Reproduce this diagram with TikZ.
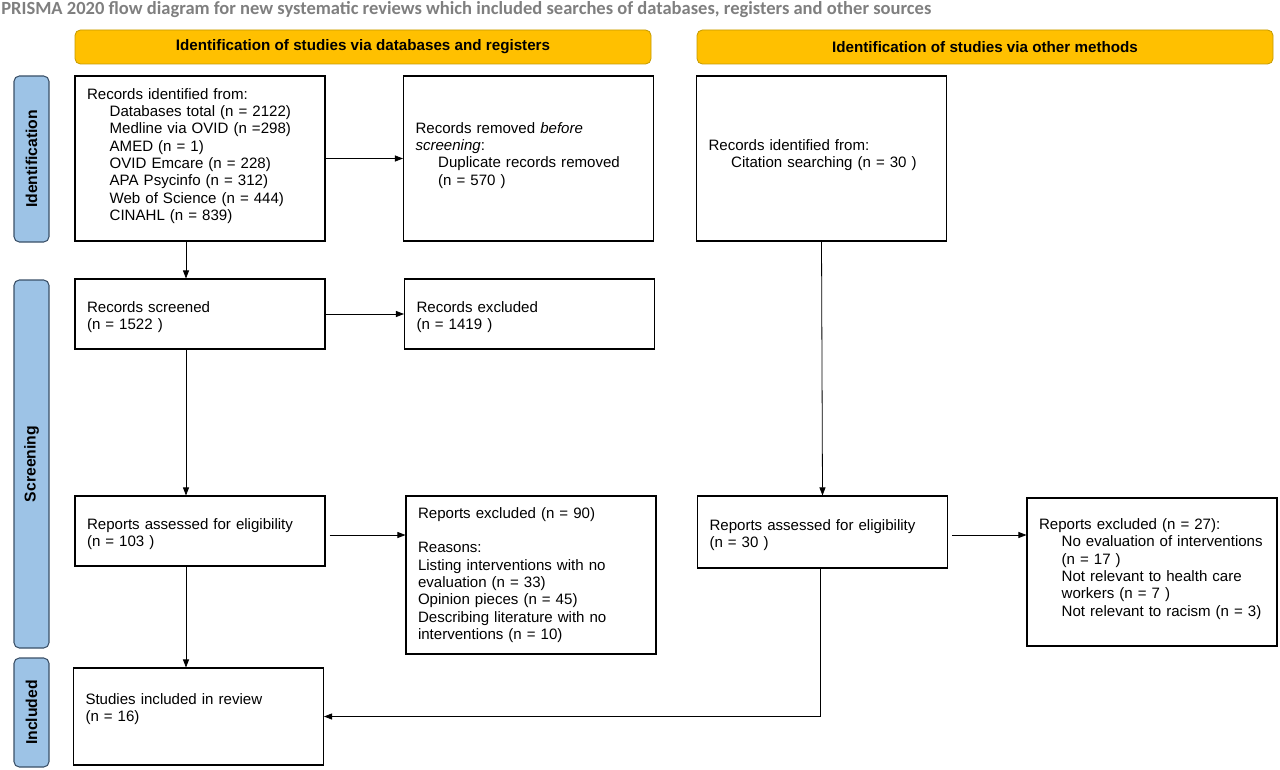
\documentclass[tikz,border=0pt]{standalone}
\usepackage{fontspec}
\setmainfont{Liberation Sans}
\newfontfamily\titlefont{Carlito}
\usetikzlibrary{arrows.meta, positioning, calc}
\usepackage{xcolor}
\definecolor{HeadFill}{HTML}{FFC000}
\definecolor{HeadLine}{HTML}{C49A00}
\definecolor{SideFill}{HTML}{9DC3E6}
\definecolor{SideLine}{HTML}{3A5068}
\definecolor{TitleGray}{HTML}{7F7F7F}
\newcommand{\prind}{\hspace*{17pt}}
\newcommand{\prlow}{\rule{0pt}{13pt}}

\begin{document}
\begin{tikzpicture}[x=0.75pt, y=-0.75pt,
    box/.style={rectangle, draw=black, line width=0.8pt, fill=white, minimum width=187.5pt, text width=169.5pt, inner xsep=9pt, align=left, font=\fontsize{11.3}{13}\selectfont},
    hdr/.style={rectangle, rounded corners=4pt, draw=HeadLine, line width=0.6pt, fill=HeadFill, minimum width=432pt, minimum height=25.5pt, align=center, font=\bfseries\fontsize{11.4}{13}\selectfont},
    side/.style={rectangle, rounded corners=4pt, draw=SideLine, line width=0.8pt, fill=SideFill, rotate=90, minimum height=26.25pt, align=center, font=\bfseries\fontsize{11.8}{13}\selectfont},
    arrow/.style={-{Triangle[length=6pt,width=4.5pt]}, line width=0.6pt}
  ]
    \useasboundingbox (0,0) rectangle (1280,770);

    % Title
    \node[anchor=west, inner sep=0pt, text=TitleGray, font=\titlefont\bfseries\fontsize{13.9}{16}\selectfont] (title) at (1,9.5) {PRISMA 2020 flow diagram for new systematic reviews which included searches of databases, registers and other sources};

    % Column headers
    \node[hdr] (hdrdb) at (363,47) {Identification of studies via databases and registers};
    \node[hdr] (hdrother) at (985,47) {Identification of studies via other methods};

    % Stage bars
    \node[side, minimum width=124.5pt] (stid) at (31.5,159) {Identification};
    \node[side, minimum width=276pt] (stscr) at (31.5,464) {Screening};
    \node[side, minimum width=81.75pt] (stinc) at (31.5,712.5) {Included};

    % Databases and registers
    \node[box, minimum height=123.75pt] (ident) at (200,158.5) {Records identified from:\\
      \prind Databases total (n = 2122)\\
      \prind Medline via OVID (n =298)\\
      \prind AMED (n = 1)\\
      \prind OVID Emcare (n = 228)\\
      \prind APA Psycinfo (n = 312)\\
      \prind Web of Science (n = 444)\\
      \prind CINAHL (n = 839)\\[-7pt]\mbox{}};
    \node[box, minimum height=123.75pt] (removed) at (528.5,158.5) {Records removed \textit{before}\\
      \textit{screening}:\\
      \prind Duplicate records removed\\
      \prind (n = 570 )\\[-6pt]\mbox{}};
    \node[box, minimum height=52.5pt] (screened) at (200,314) {\prlow Records screened\\(n = 1522 )};
    \node[box, minimum height=52.5pt] (excluded) at (529.5,314) {\prlow Records excluded\\(n = 1419 )};
    \node[box, minimum height=52.5pt] (assessed) at (200,531) {\prlow Reports assessed for eligibility\\(n = 103 )};
    \node[box, minimum height=118.5pt] (repexcl) at (531,575) {Reports excluded (n = 90)\\[13pt]
      Reasons:\\
      Listing interventions with no\\
      evaluation (n = 33)\\
      Opinion pieces (n = 45)\\
      Describing literature with no\\
      interventions (n = 10)};
    \node[box, minimum height=72.75pt] (included) at (198.5,716.5) {Studies included in review\\(n = 16)\\\mbox{}};

    % Other methods
    \node[box, minimum height=123.75pt] (otherid) at (821.5,158.5) {Records identified from:\\
      \prind Citation searching (n = 30 )\\[-6pt]\mbox{}};
    \node[box, minimum height=54pt] (otherass) at (822.5,532) {\prlow Reports assessed for eligibility\\(n = 30 )};
    \node[box, minimum height=111pt] (otherexcl) at (1152,572) {Reports excluded (n = 27):\\
      \prind No evaluation of interventions\\
      \prind (n = 17 )\\
      \prind Not relevant to health care\\
      \prind workers (n = 7 )\\
      \prind Not relevant to racism (n = 3)\\[-6pt]\mbox{}};

    % Side exits of the two eligibility boxes
    \coordinate (assout) at ($(assessed.east)+(4,4)$);
    \coordinate (othout) at ($(otherass.east)+(4,3)$);

    % Flow, databases column
    \draw[arrow] ($(ident.south)+(-14,0)$) -- ($(screened.north)+(-14,0)$);
    \draw[arrow] (ident.east) -- (removed.west);
    \draw[arrow] (screened.east) -- (excluded.west);
    \draw[arrow] ($(screened.south)+(-14,0)$) -- ($(assessed.north)+(-14,0)$);
    \draw[arrow] (assout) -- (assout -| repexcl.west);
    \draw[arrow] ($(assessed.south)+(-14,0)$) -- ($(included.north)+(-12.5,0)$);

    % Flow, other methods column
    \draw[arrow] (otherid.south) -- (otherass.north);
    \draw[arrow] (othout) -- (othout -| otherexcl.west);
    \draw[arrow] ($(otherass.south)+(-2,0)$) |- (included.east);
\end{tikzpicture}
\end{document}
